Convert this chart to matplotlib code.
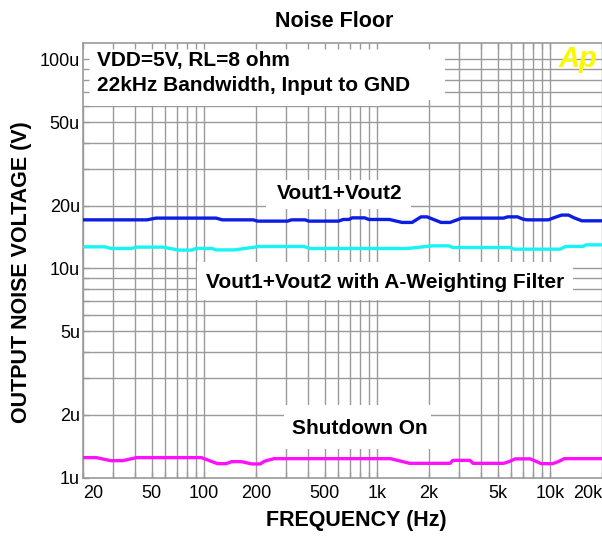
import matplotlib
matplotlib.use("Agg")
import matplotlib.pyplot as plt
from matplotlib.patches import Rectangle
import numpy as np

plt.rcParams['font.family'] = ['Liberation Sans', 'DejaVu Sans']

# ---------------- data (uV vs Hz) ----------------
vout_f = [20, 47, 53, 118, 128, 193, 205, 305, 322, 385, 405, 600, 640, 690, 720, 850,
          900, 1180, 1400, 1600, 1800, 1950, 2350, 2650, 3100, 5400, 5700, 6500, 7000,
          7400, 9800, 10500, 11700, 12800, 13800, 15300, 20000]
vout_v = [17.08, 17.08, 17.41, 17.41, 17.08, 17.08, 16.84, 16.84, 17.08, 17.08, 16.84, 16.84,
          17.15, 17.15, 17.46, 17.46, 17.15, 17.15, 16.6, 16.6, 17.65, 17.65, 16.6, 16.6,
          17.41, 17.41, 17.65, 17.65, 17.2, 17.08, 17.08, 17.46, 18.0, 18.0, 17.46, 16.9, 16.9]

aw_f = [20, 27, 29, 38, 41, 58, 72, 85, 90, 112, 118, 150, 210, 380, 410, 1500, 2100,
        2600, 2750, 5900, 6200, 11500, 12300, 15500, 16200, 20000]
aw_v = [12.69, 12.69, 12.46, 12.46, 12.65, 12.65, 12.24, 12.24, 12.46, 12.46, 12.27, 12.27,
        12.74, 12.74, 12.46, 12.46, 12.83, 12.83, 12.6, 12.6, 12.37, 12.37, 12.74, 12.74,
        12.97, 12.97]

sd_f = [20, 24, 29, 34, 41, 97, 120, 135, 145, 165, 190, 212, 225, 255, 1200, 1550, 2650,
        2750, 3450, 3600, 5400, 5800, 6300, 7700, 8300, 8900, 10400, 11300, 12100, 20000]
sd_v = [1.247, 1.247, 1.206, 1.206, 1.247, 1.247, 1.167, 1.167, 1.193, 1.193, 1.163, 1.163,
        1.2, 1.233, 1.233, 1.171, 1.171, 1.21, 1.21, 1.171, 1.171, 1.193, 1.23, 1.23, 1.198,
        1.167, 1.167, 1.198, 1.233, 1.233]

x_ticks = [20, 50, 100, 200, 500, 1000, 2000, 5000, 10000, 20000]
x_labels = ["20", "50", "100", "200", "500", "1k", "2k", "5k", "10k", "20k"]
y_ticks = [1, 2, 5, 10, 20, 50, 100]
y_labels = ["1u", "2u", "5u", "10u", "20u", "50u", "100u"]

GRID = '#9a9a9a'

fig = plt.figure(figsize=(6.02, 5.36), dpi=100)
fig.patch.set_facecolor('white')
ax = fig.add_axes([0.1374, 0.1088, 0.8626, 0.8115])
ax.set_xscale('log')
ax.set_yscale('log')
ax.set_xlim(20, 20000)
ax.set_ylim(1, 120)

# grid lines (all 1..9 multiples of each decade)
xg = [m * 10 ** d for d in range(1, 5) for m in range(1, 10) if 20 <= m * 10 ** d <= 20000]
yg = [m * 10 ** d for d in range(0, 3) for m in range(1, 10) if 1 < m * 10 ** d <= 120]
for v in xg:
    ax.axvline(v, color=GRID, lw=1.0, zorder=0.8)
for v in yg:
    ax.axhline(v, color=GRID, lw=1.0, zorder=0.8)

# white label boxes covering the grid
boxes = [(0.0, 0.8683, 0.6977, 0.1317), (0.0, 0.8545, 0.5725, 0.1455),
         (0.353, 0.6177, 0.2792, 0.0667), (0.2201, 0.4085, 0.724, 0.0874),
         (0.3878, 0.066, 0.2831, 0.1011)]
for (bx, by, bw, bh) in boxes:
    ax.add_patch(Rectangle((bx, by), bw, bh, transform=ax.transAxes,
                           facecolor='white', edgecolor='none', zorder=1.5))

ax.plot(vout_f, vout_v, color='#0c1ee0', lw=2.4, zorder=3)
ax.plot(aw_f, aw_v, color='#18f4f4', lw=2.4, zorder=3)
ax.plot(sd_f, sd_v, color='#ff10ff', lw=2.4, zorder=3)

ax.set_axisbelow(False)
ax.set_xticks(x_ticks)
ax.set_xticklabels(x_labels)
ax.set_yticks(y_ticks)
ax.set_yticklabels(y_labels)
ax.xaxis.set_minor_locator(matplotlib.ticker.FixedLocator(xg))
ax.yaxis.set_minor_locator(matplotlib.ticker.FixedLocator(yg))
ax.xaxis.set_minor_formatter(matplotlib.ticker.NullFormatter())
ax.yaxis.set_minor_formatter(matplotlib.ticker.NullFormatter())
ax.tick_params(which='both', direction='in', length=4, color=GRID, width=1,
               top=True, right=False, labelsize=13, labelcolor='black')
ax.tick_params(axis='x', which='major', pad=5)
ax.tick_params(axis='y', which='major', pad=2)
xl = ax.get_xticklabels()
xl[0].set_ha('left')
xl[-1].set_ha('right')

for s in ['left', 'top', 'bottom']:
    ax.spines[s].set_color(GRID)
    ax.spines[s].set_linewidth(1.2)
ax.spines['right'].set_visible(False)

# annotations
ax.text(0.0275, 0.9602, "VDD=5V, RL=8 ohm", transform=ax.transAxes, fontsize=15,
        fontweight='bold', ha='left', va='center', zorder=4)
ax.text(0.0275, 0.9016, "22kHz Bandwidth, Input to GND", transform=ax.transAxes,
        fontsize=15, fontweight='bold', ha='left', va='center', zorder=4)
ax.text(0.4955, 0.6522, "Vout1+Vout2", transform=ax.transAxes, fontsize=15,
        fontweight='bold', ha='center', va='center', zorder=4)
ax.text(0.5822, 0.4476, "Vout1+Vout2 with A-Weighting Filter", transform=ax.transAxes,
        fontsize=15, fontweight='bold', ha='center', va='center', zorder=4)
ax.text(0.5340, 0.112, "Shutdown On", transform=ax.transAxes, fontsize=15,
        fontweight='bold', ha='center', va='center', zorder=4)
ax.text(0.9537, 0.9625, "Ap", transform=ax.transAxes, fontsize=21, fontweight='bold',
        fontstyle='italic', color='#f8f800', ha='center', va='center', zorder=4)

fig.text(0.5557, 0.96, "Noise Floor", fontsize=15.5, fontweight='bold',
         ha='center', va='center')
fig.text(0.5914, 0.028, "FREQUENCY (Hz)", fontsize=15.5, fontweight='bold',
         ha='center', va='center')
fig.text(0.0365, 0.4925, "OUTPUT NOISE VOLTAGE (V)", fontsize=15.5, fontweight='bold',
         rotation=90, ha='center', va='center')

fig.savefig("out.png", dpi=100, facecolor='white')
